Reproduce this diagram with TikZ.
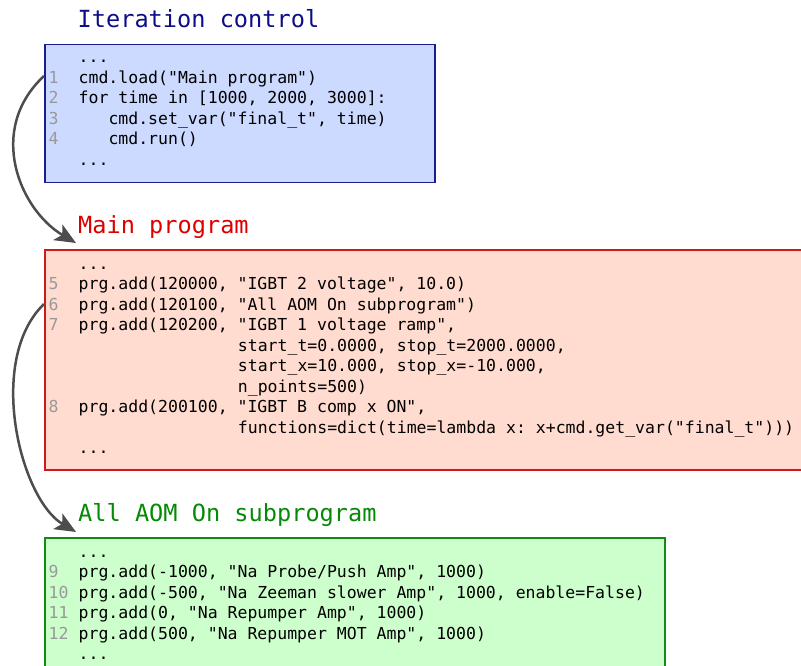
\documentclass[tikz,border=0pt]{standalone}
\usepackage{fontspec}
\setmonofont{DejaVu Sans Mono}
\usetikzlibrary{arrows.meta}

\definecolor{ctrlfill}{HTML}{CCDAFF}
\definecolor{ctrledge}{HTML}{1C1C8C}
\definecolor{ctrltext}{HTML}{0D0D8A}
\definecolor{mainfill}{HTML}{FFDCCF}
\definecolor{mainedge}{HTML}{D01A1A}
\definecolor{maintext}{HTML}{DD0000}
\definecolor{subfill}{HTML}{CCFFCC}
\definecolor{subedge}{HTML}{138A13}
\definecolor{subtext}{HTML}{058A05}
\definecolor{numgray}{HTML}{999999}
\definecolor{arrowgray}{HTML}{4D4D4D}

\begin{document}
\begin{tikzpicture}[x=1pt,y=-1pt,
  code/.style={anchor=base west, inner sep=0pt,
    font=\ttfamily\fontsize{16.5}{20}\selectfont},
  lnum/.style={code, text=numgray},
  title/.style={anchor=base west, inner sep=0pt,
    font=\ttfamily\fontsize{23.6}{28}\selectfont},
  codebox/.style={draw, line width=1.5pt, anchor=north west, inner sep=0pt},
  flow/.style={draw=arrowgray, line width=2.5pt,
    -{Stealth[length=21pt,width=18pt,inset=5pt]}}]

\useasboundingbox (0,0) rectangle (801,666);
\clip (0,0) rectangle (801,666);

% columns of the monospaced listing
\def\cA{48.5}    % line numbers
\def\cB{78.5}    % code
\def\cC{108.3}   % indented code
\def\cD{237.7}   % continuation lines

% ---------- Iteration control ----------
\node[title, text=ctrltext] (tctrl) at (77.5,27.5) {Iteration control};
\node[codebox, fill=ctrlfill, draw=ctrledge,
      minimum width=390pt, minimum height=138pt] (ctrl) at (44,44) {};
\node[code] at (\cB,63) {...};
\node[lnum] (n1) at (\cA,83.5) {1};
\node[code] at (\cB,83.5) {cmd.load("Main program")};
\node[lnum] at (\cA,104) {2};
\node[code] at (\cB,104) {for time in [1000, 2000, 3000]:};
\node[lnum] at (\cA,124.5) {3};
\node[code] at (\cC,124.5) {cmd.set\_var("final\_t", time)};
\node[lnum] at (\cA,145) {4};
\node[code] at (\cC,145) {cmd.run()};
\node[code] at (\cB,165.5) {...};

% ---------- Main program ----------
\node[title, text=maintext] (tmain) at (78,233.5) {Main program};
\node[codebox, fill=mainfill, draw=mainedge,
      minimum width=760pt, minimum height=220pt] (main) at (44,249) {};
\node[code] at (\cB,269) {...};
\node[lnum] at (\cA,289.5) {5};
\node[code] at (\cB,289.5) {prg.add(120000, "IGBT 2 voltage", 10.0)};
\node[lnum] (n6) at (\cA,310) {6};
\node[code] at (\cB,310) {prg.add(120100, "All AOM On subprogram")};
\node[lnum] at (\cA,330.5) {7};
\node[code] at (\cB,330.5) {prg.add(120200, "IGBT 1 voltage ramp",};
\node[code] at (\cD,351) {start\_t=0.0000, stop\_t=2000.0000,};
\node[code] at (\cD,371.5) {start\_x=10.000, stop\_x=-10.000,};
\node[code] at (\cD,392) {n\_points=500)};
\node[lnum] at (\cA,412.5) {8};
\node[code] at (\cB,412.5) {prg.add(200100, "IGBT B comp x ON",};
\node[code] at (\cD,433) {functions=dict(time=lambda x: x+cmd.get\_var("final\_t")))};
\node[code] at (\cB,453.5) {...};

% ---------- All AOM On subprogram ----------
\node[title, text=subtext] (tsub) at (78,521.5) {All AOM On subprogram};
\node[codebox, fill=subfill, draw=subedge,
      minimum width=620pt, minimum height=135pt] (sub) at (44,537) {};
\node[code] at (\cB,557) {...};
\node[lnum] at (\cA,577.5) {9};
\node[code] at (\cB,577.5) {prg.add(-1000, "Na Probe/Push Amp", 1000)};
\node[lnum] at (\cA,598) {10};
\node[code] at (\cB,598) {prg.add(-500, "Na Zeeman slower Amp", 1000, enable=False)};
\node[lnum] at (\cA,618.5) {11};
\node[code] at (\cB,618.5) {prg.add(0, "Na Repumper Amp", 1000)};
\node[lnum] at (\cA,639) {12};
\node[code] at (\cB,639) {prg.add(500, "Na Repumper MOT Amp", 1000)};
\node[code] at (\cB,659.5) {...};

% ---------- call arrows ----------
\coordinate (s1) at (ctrl.west |- 0,76);
\coordinate (e1) at (76,243);
\coordinate (s2) at (main.west |- 0,304);
\coordinate (e2) at (76,532);

\draw[flow] (s1) .. controls (-14,130) and (20,210) .. (e1);
\draw[flow] (s2) .. controls (-14,360) and (20,499) .. (e2);

\end{tikzpicture}
\end{document}
